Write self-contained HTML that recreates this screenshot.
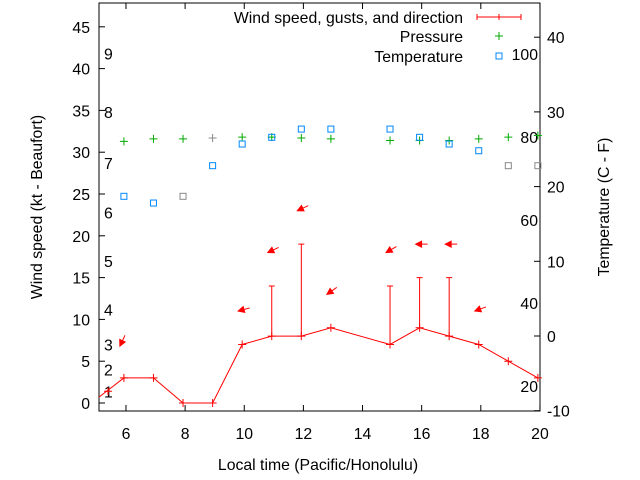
<!DOCTYPE html>
<html><head><meta charset="utf-8"><style>
body{margin:0;background:#fff}
svg{display:block;font-family:"Liberation Sans",sans-serif;font-size:15.8px}
</style></head><body>
<svg id="c" width="640" height="480">
<rect x="0" y="0" width="640" height="480" fill="#fff"/>
<g id="g"></g>
</svg>
<script>
const hours=[5.93,6.93,7.93,8.93,9.93,10.93,11.93,12.93,14.93,15.93,16.93,17.93,18.93,19.93];
const windKt=[3,3,0,0,7,8,8,9,7,9,8,7,5,3];
const gustHours=[10.93,11.93,14.93,15.93,16.93];
const gustKt=[14,19,14,15,15];
const arrowHours=[5.93,9.93,10.93,11.93,12.93,14.93,15.93,16.93,17.93];
const arrowKt=[6.8,11,18,23,13,18,19,19,11];
const arrowDeg=[245,195,205,205,215,210,180,180,200];
const pressure=[31.3,31.6,31.6,31.7,31.8,31.8,31.7,31.6,31.4,31.4,31.4,31.6,31.8,32.0];
const pressureMissing=[0,0,0,1,0,0,0,0,0,0,0,0,0,0];
const tempC=[18.7,17.8,18.7,22.8,25.7,26.6,27.7,27.7,27.7,26.6,25.7,24.8,22.8,22.8];
const tempMissing=[0,0,1,0,0,0,0,0,0,0,0,0,1,1];
const xTicks=[6,8,10,12,14,16,18,20];
const yTicks=[0,5,10,15,20,25,30,35,40,45];
const y2Ticks=[-10,0,10,20,30,40];
const beaufort=[1,2,3,4,5,6,7,8,9];
const beaufortKt=[1.4,4,7,11.2,17,22.8,28.7,34.8,41.8];
const fahr=[20,40,60,80,100];

const L=99,R=540,T=3,B=411;
const X=h=>96.4+(h-5)*29.57;
const Y=k=>403-k*8.36;
const Y2=c=>336-c*7.47;
const NS='http://www.w3.org/2000/svg';
const g=document.getElementById('g');
function mk(t,a,txt){const e=document.createElementNS(NS,t);for(const k in a)e.setAttribute(k,a[k]);if(txt!=null)e.textContent=txt;g.appendChild(e);return e;}
function plus(x,y,col){mk('path',{d:`M${x-4},${y}h8M${x},${y-4}v8`,stroke:col,'stroke-width':1,fill:'none'});}

const fr=mk('rect',{x:L,y:T,width:R-L,height:B-T,fill:'none',stroke:'#000','stroke-width':1});


xTicks.forEach(v=>{const x=X(v);
 mk('path',{d:`M${x},${B}v-6M${x},${T}v6`,stroke:'#000'});
 const t=mk('text',{x:x,y:439,'text-anchor':'middle'},v);
 
 });
yTicks.forEach(v=>{const y=Y(v);
 mk('path',{d:`M${L},${y}h6`,stroke:'#000'});
 const t=mk('text',{x:90,y:y+6,'text-anchor':'end'},v);
 
 });
y2Ticks.forEach(v=>{const y=Y2(v);
 mk('path',{d:`M${R},${y}h-6`,stroke:'#000'});
 const t=mk('text',{x:547,y:y+6,'text-anchor':'start'},v);
 
 });
beaufort.forEach((b,i)=>{const t=mk('text',{x:104,y:Y(beaufortKt[i])+6},b);
 
 });
fahr.forEach(f=>{const t=mk('text',{x:538,y:Y2((f-32)*5/9)+6,'text-anchor':'end'},f);
 
 });

let pts=[[L,Y(0.7)]].concat(hours.map((h,i)=>[X(h),Y(windKt[i])]));
const wl=mk('polyline',{points:pts.map(p=>p.join(',')).join(' '),fill:'none',stroke:'#f00','stroke-width':1});


hours.forEach((h,i)=>plus(X(h),Y(windKt[i]),'#f00'));
plus(108,Y(1.4),'#f00');
gustHours.forEach((h,i)=>{const k=windKt[hours.indexOf(h)];const x=X(h);
 const e=mk('path',{d:`M${x},${Y(k)}V${Y(gustKt[i])}M${x-3},${Y(gustKt[i])}h6`,stroke:'#f00',fill:'none'});
 
 });
arrowHours.forEach((h,i)=>{const a=arrowDeg[i]*Math.PI/180;const hx=X(h)-4,hy=Y(arrowKt[i]);
 const dx=Math.cos(a),dy=-Math.sin(a);const tx=hx-dx*12,ty=hy-dy*12;
 const px=-dy,py=dx;
 const e=mk('path',{d:`M${tx},${ty}L${hx},${hy}M${hx},${hy}L${hx-dx*6+px*3},${hy-dy*6+py*3}L${hx-dx*6-px*3},${hy-dy*6-py*3}Z`,stroke:'#f00',fill:'#f00','stroke-width':1});
 
 });
hours.forEach((h,i)=>plus(X(h),Y(pressure[i]),pressureMissing[i]?'#888':'#0a0'));
hours.forEach((h,i)=>{const e=mk('rect',{x:X(h)-3,y:Y2(tempC[i])-3,width:6,height:6,fill:'none',stroke:tempMissing[i]?'#888':'#08f'});
 
 });

[['Wind speed, gusts, and direction',17],['Pressure',36],['Temperature',56]].forEach((l,i)=>{
 const t=mk('text',{x:463,y:l[1]+6,'text-anchor':'end'},l[0]);
 
 });
mk('path',{d:`M477,17h44M477,14v6M499,14v6M521,14v6`,stroke:'#f00',fill:'none'});
plus(499,36,'#0a0');
mk('rect',{x:496,y:53,width:6,height:6,fill:'none',stroke:'#08f'});

let t=mk('text',{x:318,y:470,'text-anchor':'middle'},'Local time (Pacific/Honolulu)');


t=mk('text',{x:0,y:0,'text-anchor':'middle',transform:'translate(42,207) rotate(-90)'},'Wind speed (kt - Beaufort)');


t=mk('text',{x:0,y:0,'text-anchor':'middle',transform:'translate(609,207) rotate(-90)'},'Temperature (C - F)');


</script>
</body></html>
